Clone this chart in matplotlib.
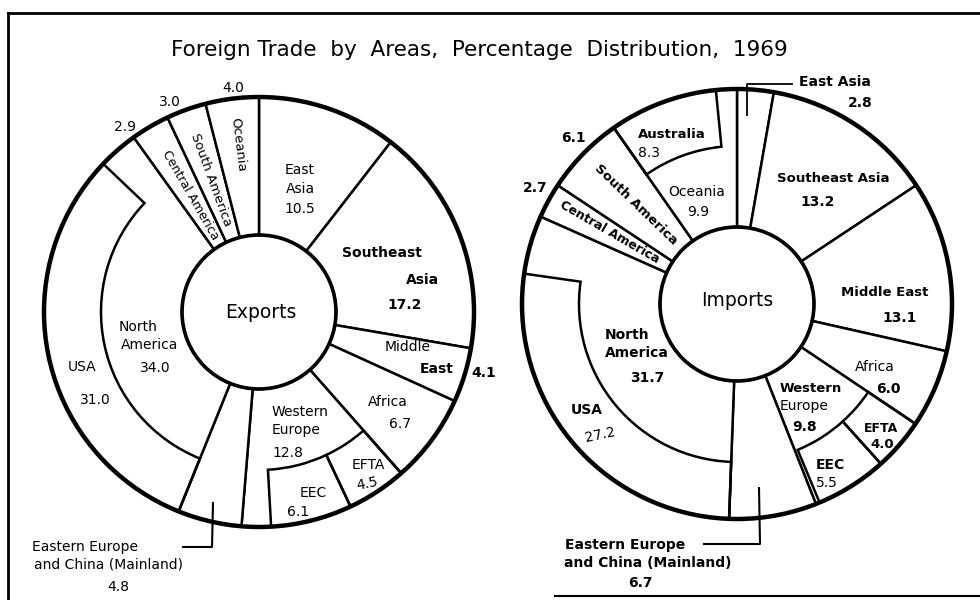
import matplotlib
matplotlib.use("Agg")
import matplotlib.pyplot as plt
from matplotlib.patches import Circle

plt.rcParams['font.family'] = ['DejaVu Sans']

# Data (percent of total, read clockwise from the top of each ring)
regions = ['East Asia', 'Southeast Asia', 'Middle East', 'Africa', 'Western Europe',
           'Eastern Europe and China (Mainland)', 'North America',
           'Central America', 'South America', 'Oceania']
exports = [10.5, 17.2, 4.1, 6.7, 12.8, 4.8, 34.0, 2.9, 3.0, 4.0]
imports = [2.8, 13.2, 13.1, 6.0, 9.8, 6.7, 31.7, 2.7, 6.1, 9.9]

# sub-areas shown in the outer band of their parent region
exp_sub = {'Western Europe': [4.5, 6.1],   # EFTA, EEC
           'North America': [31.0]}        # USA
imp_sub = {'Western Europe': [4.0, 5.5],   # EFTA, EEC
           'North America': [27.2],        # USA
           'Oceania': [8.3]}               # Australia

R_OUT, R_MID, R_IN = 215, 158, 77
ex_c = (259, 312)
im_c = (737, 304)

fig = plt.figure(figsize=(9.8, 6), dpi=100)
ax = fig.add_axes([0, 0, 1, 1])


def ring(vals, subs, center):
    # main ring: whole area from inner circle to outer circle
    ax.pie(vals, radius=R_OUT, center=center, startangle=-90, counterclock=True,
           wedgeprops=dict(width=R_OUT - R_IN, facecolor='white',
                           edgecolor='black', linewidth=1.8))
    # outer band: only the sub-areas are drawn
    band, show = [], []
    for name, v in zip(regions, vals):
        parts = subs.get(name, [])
        for p in parts:
            band.append(p)
            show.append(True)
        rest = v - sum(parts)
        if rest > 0:
            band.append(rest)
            show.append(False)
    wedges, _ = ax.pie(band, radius=R_OUT, center=center, startangle=-90,
                       counterclock=True,
                       wedgeprops=dict(width=R_OUT - R_MID, facecolor='none',
                                       edgecolor='black', linewidth=1.8))
    for w, s in zip(wedges, show):
        w.set_visible(s)
    ax.add_patch(Circle(center, R_OUT, fill=False, lw=3.2, color='black'))
    ax.add_patch(Circle(center, R_IN, fill=False, lw=2.6, color='black'))


ring(exports, exp_sub, ex_c)
ring(imports, imp_sub, im_c)

ax.set_xlim(0, 980)
ax.set_ylim(600, 0)
ax.set_aspect('equal')
ax.axis('off')

# frame
ax.plot([8, 980], [13, 13], color='black', lw=2)
ax.plot([8, 8], [13, 600], color='black', lw=2)
ax.plot([555, 980], [596, 596], color='black', lw=1.5)

ax.text(479, 50, 'Foreign Trade  by  Areas,  Percentage  Distribution,  1969',
        ha='center', va='center', fontsize=15.5)

fs = 10


def lab(s, x, y, rot=0, ha='center', size=fs, weight='normal'):
    ax.text(x, y, s, ha=ha, va='center', rotation=rot, fontsize=size,
            fontweight=weight, rotation_mode='anchor')


f = '{:.1f}'.format
e = dict(zip(regions, exports))
m = dict(zip(regions, imports))

# Exports labels
lab(f(e['Oceania']), 233, 88)
lab(f(e['South America']), 170, 102)
lab(f(e['Central America']), 125, 127)
lab('Oceania', 238, 145, rot=-83, size=9.5)
lab('South America', 211, 180, rot=-70, size=9.5)
lab('Central America', 190, 195, rot=-60, size=9)
lab('East', 300, 170)
lab('Asia', 300, 189)
lab(f(e['East Asia']), 300, 209)
lab('Southeast', 382, 253, weight='bold')
lab('Asia', 422, 280, weight='bold')
lab(f(e['Southeast Asia']), 405, 305, weight='bold')
lab('Exports', 261, 312, size=13.5)
lab('Middle', 408, 347)
lab('East', 437, 369, weight='bold')
lab(f(e['Middle East']), 484, 373, weight='bold')
lab('Africa', 388, 402)
lab(f(e['Africa']), 400, 424)
lab('Western', 272, 412, ha='left')
lab('Europe', 272, 430, ha='left')
lab(f(e['Western Europe']), 272, 453, ha='left')
lab('EFTA', 368, 465)
lab(f(exp_sub['Western Europe'][0]), 367, 484, rot=12)
lab('EEC', 313, 493)
lab(f(exp_sub['Western Europe'][1]), 298, 512)
lab('North', 138, 327)
lab('America', 150, 345)
lab(f(e['North America']), 155, 368)
lab('USA', 82, 367)
lab(f(exp_sub['North America'][0]), 95, 400)
lab('Eastern Europe', 85, 547)
lab('and China (Mainland)', 108, 565)
lab(f(e['Eastern Europe and China (Mainland)']), 118, 587)
ax.plot([183, 212, 213], [547, 547, 503], color='black', lw=1.5)

# Imports labels
lab('East Asia', 835, 82, weight='bold')
lab(f(m['East Asia']), 860, 103, weight='bold')
ax.plot([792, 747, 747], [84, 84, 115], color='black', lw=1.3)
lab('Australia', 638, 135, ha='left', weight='bold', size=9.5)
lab(f(imp_sub['Oceania'][0]), 638, 153, ha='left')
lab(f(m['South America']), 573, 138, weight='bold')
lab(f(m['Central America']), 535, 188, weight='bold')
lab('South America', 636, 205, rot=-44, weight='bold', size=9.5)
lab('Central America', 610, 232, rot=-30, weight='bold', size=9)
lab('Oceania', 697, 192)
lab(f(m['Oceania']), 698, 212)
lab('Southeast Asia', 833, 178, weight='bold', size=9.5)
lab(f(m['Southeast Asia']), 818, 202, weight='bold')
lab('Imports', 737, 300, size=13.5)
lab('Middle East', 885, 293, weight='bold', size=9.5)
lab(f(m['Middle East']), 900, 318, weight='bold')
lab('Africa', 875, 367)
lab(f(m['Africa']), 888, 389, weight='bold')
lab('Western', 780, 388, ha='left', weight='bold', size=9.5)
lab('Europe', 780, 406, ha='left')
lab(f(m['Western Europe']), 792, 427, ha='left', weight='bold')
lab('EFTA', 881, 428, weight='bold', size=9)
lab(f(imp_sub['Western Europe'][0]), 882, 444, weight='bold', size=9.5)
lab('EEC', 830, 465, weight='bold')
lab(f(imp_sub['Western Europe'][1]), 827, 483)
lab('North', 627, 335, weight='bold')
lab('America', 637, 353, weight='bold')
lab(f(m['North America']), 647, 378, weight='bold')
lab('USA', 587, 410, weight='bold')
lab(f(imp_sub['North America'][0]), 600, 435, rot=12)
lab('Eastern Europe', 625, 545, weight='bold')
lab('and China (Mainland)', 648, 563, weight='bold')
lab(f(m['Eastern Europe and China (Mainland)']), 640, 583, weight='bold')
ax.plot([704, 760, 759], [544, 544, 488], color='black', lw=1.5)

fig.savefig('out.png', dpi=100, facecolor='white')
